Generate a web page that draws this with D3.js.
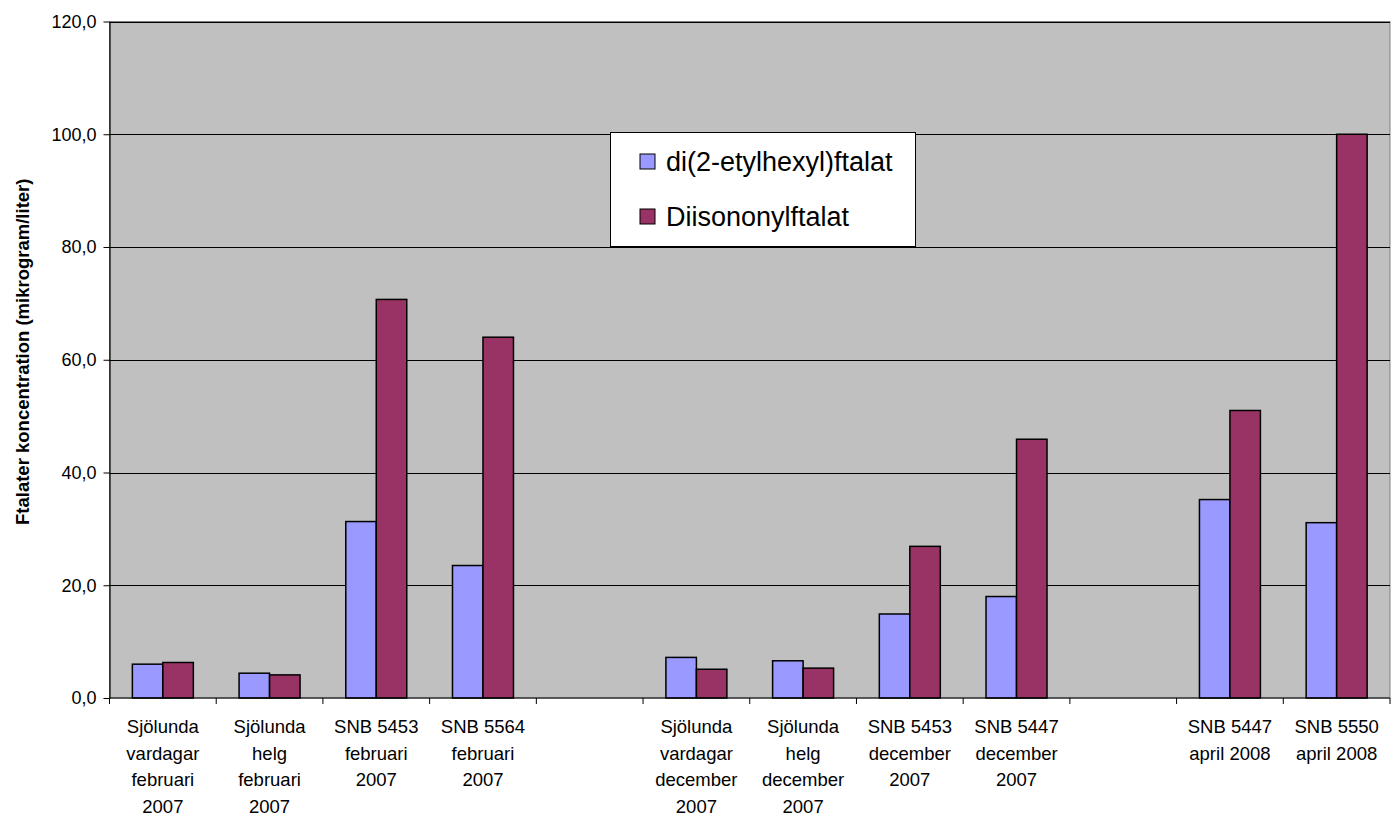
<!DOCTYPE html>
<html>
<head>
<meta charset="utf-8">
<script src="https://cdn.jsdelivr.net/npm/d3@7"></script>
<style>
  html, body { margin: 0; padding: 0; background: #ffffff; }
  svg { display: block; font-family: Arial, "Liberation Sans", sans-serif; }
</style>
</head>
<body>
<svg id="chart" width="1391" height="816"></svg>
<script>
// ---- Data ----
const categories = [
  ["Sjölunda", "vardagar", "februari", "2007"],
  ["Sjölunda", "helg", "februari", "2007"],
  ["SNB 5453", "februari", "2007"],
  ["SNB 5564", "februari", "2007"],
  [],
  ["Sjölunda", "vardagar", "december", "2007"],
  ["Sjölunda", "helg", "december", "2007"],
  ["SNB 5453", "december", "2007"],
  ["SNB 5447", "december", "2007"],
  [],
  ["SNB 5447", "april 2008"],
  ["SNB 5550", "april 2008"]
];
const seriesNames = ["di(2-etylhexyl)ftalat", "Diisononylftalat"];
const dehpValues = [6.0, 4.4, 31.3, 23.5, null, 7.2, 6.6, 14.9, 18.0, null, 35.2, 31.1];
const dinpValues = [6.3, 4.1, 70.7, 64.0, null, 5.1, 5.3, 26.9, 45.9, null, 51.0, 100.0];
const yTicks = [0, 20, 40, 60, 80, 100, 120];
const yTitle = "Ftalater koncentration (mikrogram/liter)";
const seriesColors = ["#9999FF", "#993366"];

// ---- Layout ----
const svg = d3.select("#chart");
const plot = { left: 109.5, right: 1390, top: 21.5, bottom: 698 };

const x0 = d3.scaleBand()
  .domain(d3.range(categories.length))
  .range([plot.left, plot.right])
  .padding(0);
const x1 = d3.scaleBand()
  .domain(d3.range(seriesNames.length))
  .range([0, x0.bandwidth()])
  .paddingInner(0)
  .paddingOuter(0.75);
const y = d3.scaleLinear().domain([0, 120]).range([plot.bottom, plot.top]);

const fmt = v => d3.format(".1f")(v).replace(".", ",");

// plot background
svg.append("rect")
  .attr("x", plot.left).attr("y", plot.top)
  .attr("width", plot.right - plot.left).attr("height", plot.bottom - plot.top)
  .attr("fill", "#C0C0C0")
  .attr("stroke", "#808080").attr("stroke-width", 1);

// gridlines
svg.append("g").selectAll("line")
  .data(yTicks.filter(d => d > 0))
  .join("line")
  .attr("x1", plot.left).attr("x2", plot.right)
  .attr("y1", d => Math.round(y(d)) + 0.5).attr("y2", d => Math.round(y(d)) + 0.5)
  .attr("stroke", "#000").attr("stroke-width", 1);

// bars
const seriesData = [dehpValues, dinpValues];
const barG = svg.append("g");
seriesData.forEach((vals, si) => {
  barG.append("g").selectAll("rect")
    .data(vals.map((v, i) => ({ i, v })).filter(d => d.v != null))
    .join("rect")
    .attr("x", d => x0(d.i) + x1(si))
    .attr("y", d => y(d.v))
    .attr("width", x1.bandwidth())
    .attr("height", d => y(0) - y(d.v))
    .attr("fill", seriesColors[si])
    .attr("stroke", "#000").attr("stroke-width", 1.5);
});

// y axis
const yAxis = d3.axisLeft(y).tickValues(yTicks).tickFormat(fmt).tickSizeInner(6).tickSizeOuter(0).tickPadding(7);
const yg = svg.append("g").attr("transform", `translate(${plot.left},0)`).call(yAxis);
yg.select(".domain").attr("stroke", "#000").attr("stroke-width", 1.2);
yg.selectAll(".tick line").attr("stroke", "#000");
yg.selectAll(".tick text").attr("font-size", 18).attr("fill", "#000")
  .attr("font-family", "Arial, 'Liberation Sans', sans-serif");

// x axis (ticks at category boundaries)
const boundaries = d3.range(categories.length + 1).map(i => plot.left + i * x0.step());
const xg = svg.append("g");
xg.append("line")
  .attr("x1", plot.left).attr("x2", plot.right)
  .attr("y1", plot.bottom).attr("y2", plot.bottom)
  .attr("stroke", "#000").attr("stroke-width", 1.2);
xg.selectAll("line.tick")
  .data(boundaries)
  .join("line").attr("class", "tick")
  .attr("x1", d => d).attr("x2", d => d)
  .attr("y1", plot.bottom).attr("y2", plot.bottom + 6)
  .attr("stroke", "#000");

// category labels
const labelG = svg.append("g");
categories.forEach((lines, i) => {
  const t = labelG.append("text")
    .attr("x", x0(i) + x0.bandwidth() / 2)
    .attr("y", 733)
    .attr("text-anchor", "middle")
    .attr("font-size", 18.5)
    .attr("fill", "#000");
  lines.forEach((ln, k) => {
    t.append("tspan")
      .attr("x", x0(i) + x0.bandwidth() / 2)
      .attr("y", 733 + k * 26.6)
      .text(ln);
  });
});

// y axis title
svg.append("text")
  .attr("transform", `translate(29,${(plot.top + plot.bottom) / 2 - 8}) rotate(-90)`)
  .attr("text-anchor", "middle")
  .attr("font-size", 18.5)
  .attr("font-weight", "bold")
  .attr("fill", "#000")
  .text(yTitle);

// legend
const legend = svg.append("g");
legend.append("rect")
  .attr("x", 610.5).attr("y", 132.5).attr("width", 305).attr("height", 114)
  .attr("fill", "#fff").attr("stroke", "#000").attr("stroke-width", 1);
const legendRows = [171, 226];
seriesNames.forEach((name, si) => {
  legend.append("rect")
    .attr("x", 640).attr("y", legendRows[si] - 17)
    .attr("width", 15).attr("height", 15)
    .attr("fill", seriesColors[si])
    .attr("stroke", "#000").attr("stroke-width", 1);
  legend.append("text")
    .attr("x", 666).attr("y", legendRows[si])
    .attr("font-size", 27)
    .attr("fill", "#000")
    .text(name);
});
</script>
</body>
</html>
